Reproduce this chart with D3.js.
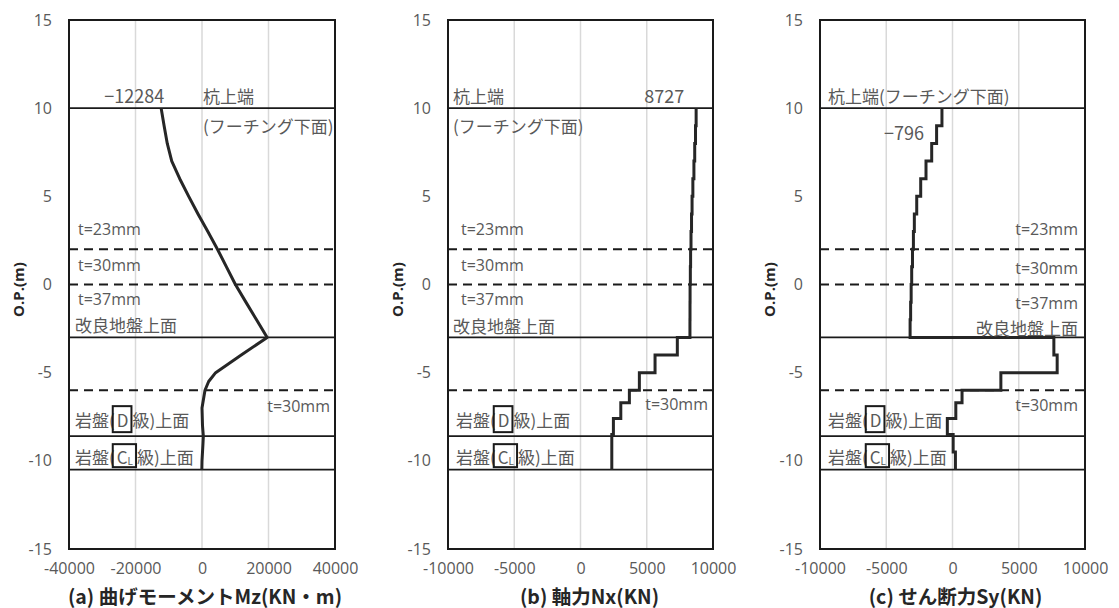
<!DOCTYPE html>
<html><head><meta charset="utf-8">
<script src="https://cdn.jsdelivr.net/npm/d3@7"></script>
<style>body{margin:0;background:#fff}</style>
</head><body>
<svg id="chart" width="1119" height="608"></svg>
<script>
// ---- data ----
const depthTicks = [15, 10, 5, 0, -5, -10, -15];
const momentTicks = [-40000, -20000, 0, 20000, 40000];
const forceTicks = [-10000, -5000, 0, 5000, 10000];
const solidLayers = [10, -3, -8.6, -10.5];
const dashedLayers = [2, 0, -6];

const momentDepth = [10, 9, 8, 7, 6, 5, 4, 3, 2, 1, 0, -1, -2, -3, -4, -5, -5.5, -6, -7, -8, -8.6, -9, -10, -10.5];
const momentValue = [-12284, -11400, -10450, -9100, -6700, -4000, -1200, 1750, 4650, 7350, 10050, 13200, 16400, 19600, 11800, 4100, 2000, 900, 0, 150, 400, 300, 0, -50];

const axialBreaks = [10, 9, 8, 7, 6, 5, 4, 3, 2, 1, 0, -1, -2, -3, -4, -5, -6, -6.7, -7.6, -8.5, -10.5];
const axialValue = [8727, 8680, 8620, 8560, 8480, 8420, 8380, 8340, 8310, 8290, 8270, 8265, 8260, 7308, 5626, 4443, 3689, 3041, 2483, 2362];

const shearBreaks = [10, 9, 8, 7, 6, 5, 4, 3, 2, 1, 0, -1, -2, -3, -4, -5, -6, -6.7, -7.6, -8.5, -9.5, -10.5];
const shearValue = [-796, -1200, -1570, -2000, -2400, -2700, -2880, -2950, -3020, -3080, -3120, -3160, -3200, 7650, 7900, 3650, 720, 250, -390, 50, 220];

const panelTitles = ["(a) 曲げモーメントMz(KN・m)", "(b) 軸力Nx(KN)", "(c) せん断力Sy(KN)"];
const peakLabels = ["−12284", "8727", "−796"];
const yAxisTitle = "O.P.(m)";

// ---- layout ----
const svg = d3.select("#chart");
const plotTop = 20, plotBottom = 549;
const panels = [
  {left: 69, right: 335, domain: [-40000, 40000], ticks: momentTicks},
  {left: 448, right: 713, domain: [-10000, 10000], ticks: forceTicks},
  {left: 820, right: 1085, domain: [-10000, 10000], ticks: forceTicks}
];
const y = d3.scaleLinear().domain([15, -15]).range([plotTop, plotBottom]);
const jpFont = "'Noto Sans CJK JP', 'Noto Sans', sans-serif";
const numFont = "'Open Sans', 'Noto Sans', sans-serif";
const annoColor = "#595959";
const jpSize = 17;

function stepPoints(breaks, values) {
  const pts = [];
  values.forEach((v, i) => { pts.push([v, breaks[i]]); pts.push([v, breaks[i + 1]]); });
  return pts;
}

panels.forEach((p, pi) => {
  const x = d3.scaleLinear().domain(p.domain).range([p.left, p.right]);
  p.x = x;
  const g = svg.append("g");
  g.selectAll("line.grid").data(p.ticks.slice(1, -1)).enter().append("line")
    .attr("x1", d => x(d)).attr("x2", d => x(d)).attr("y1", plotTop).attr("y2", plotBottom)
    .attr("stroke", "#d9d9d9").attr("stroke-width", 1.5);
  g.selectAll("line.solid").data(solidLayers).enter().append("line")
    .attr("x1", p.left).attr("x2", p.right).attr("y1", d => y(d)).attr("y2", d => y(d))
    .attr("stroke", "#1a1a1a").attr("stroke-width", 1.6);
  g.selectAll("line.dash").data(dashedLayers).enter().append("line")
    .attr("x1", p.left).attr("x2", p.right).attr("y1", d => y(d)).attr("y2", d => y(d))
    .attr("stroke", "#1a1a1a").attr("stroke-width", 2).attr("stroke-dasharray", "9,6");
  g.append("rect").attr("x", p.left).attr("y", plotTop).attr("width", p.right - p.left).attr("height", plotBottom - plotTop)
    .attr("fill", "none").attr("stroke", "#1a1a1a").attr("stroke-width", 2);
  const yAxis = d3.axisLeft(y).tickValues(depthTicks).tickSize(0).tickPadding(17);
  const ya = g.append("g").attr("transform", `translate(${p.left},0)`).call(yAxis);
  ya.select(".domain").remove();
  ya.selectAll("text").attr("font-family", numFont).attr("font-size", 16).attr("fill", annoColor)
    .text(d => String(d));
  const xAxis = d3.axisBottom(x).tickValues(p.ticks).tickSize(0).tickPadding(14);
  const xa = g.append("g").attr("transform", `translate(0,${plotBottom})`).call(xAxis);
  xa.select(".domain").remove();
  xa.selectAll("text").attr("font-family", numFont).attr("font-size", 16).attr("fill", annoColor)
    .text(d => String(d));
  g.append("text").attr("transform", `translate(${p.left - 51},${(plotTop + plotBottom) / 2 + 5}) rotate(-90)`)
    .attr("text-anchor", "middle").attr("dominant-baseline", "central")
    .attr("font-family", numFont).attr("font-weight", "bold").attr("font-size", 15).attr("fill", "#262626")
    .text(yAxisTitle);
  g.append("text").attr("x", (p.left + p.right) / 2 + (pi === 1 ? 9 : 3)).attr("y", 595)
    .attr("text-anchor", "middle").attr("dominant-baseline", "central")
    .attr("font-family", jpFont).attr("font-weight", "bold").attr("font-size", 19.5).attr("fill", "#262626")
    .text(panelTitles[pi]);
});

// ---- series ----
const line = (x) => d3.line().x(d => x(d[0])).y(d => y(d[1]));
svg.append("path").datum(momentDepth.map((d, i) => [momentValue[i], d]))
  .attr("d", line(panels[0].x)).attr("fill", "none").attr("stroke", "#262626").attr("stroke-width", 3).attr("stroke-linejoin", "round");
svg.append("path").datum(stepPoints(axialBreaks, axialValue))
  .attr("d", line(panels[1].x)).attr("fill", "none").attr("stroke", "#262626").attr("stroke-width", 3);
svg.append("path").datum(stepPoints(shearBreaks, shearValue))
  .attr("d", line(panels[2].x)).attr("fill", "none").attr("stroke", "#262626").attr("stroke-width", 3);

// ---- annotations ----
function anno(x, yy, txt, anchor, size) {
  return svg.append("text").attr("x", x).attr("y", yy).attr("text-anchor", anchor || "start")
    .attr("dominant-baseline", "central").attr("font-family", jpFont).attr("font-size", size || jpSize)
    .attr("fill", annoColor).text(txt);
}
function tAnno(x, yy, txt, anchor) {
  return svg.append("text").attr("x", x).attr("y", yy).attr("text-anchor", anchor || "start")
    .attr("dominant-baseline", "central").attr("font-family", numFont).attr("font-size", 16)
    .attr("fill", annoColor).text(txt);
}
function rockLabel(x, yy, cls) {
  const t = svg.append("text").attr("x", x).attr("y", yy).attr("dominant-baseline", "central")
    .attr("font-family", jpFont).attr("font-size", jpSize).attr("fill", annoColor);
  t.append("tspan").text("岩盤(");
  let n;
  if (cls === "D") {
    t.append("tspan").attr("dx", 2).text("D");
    n = 1;
  } else {
    t.append("tspan").attr("dx", 2).text("C");
    t.append("tspan").attr("font-size", 10).attr("dy", 4).text("L");
    n = 2;
  }
  t.append("tspan").attr("dx", 4).attr("dy", cls === "D" ? 0 : -4).text("級)上面");
  const node = t.node();
  let bx0 = x + 40, bx1 = x + 60;
  try {
    const a = node.getExtentOfChar(3), b = node.getExtentOfChar(3 + n - 1);
    bx0 = a.x - 4; bx1 = b.x + b.width + 3;
  } catch (e) {}
  const h = cls === "D" ? 26 : 23;
  svg.append("rect").attr("x", bx0).attr("y", yy - h / 2).attr("width", bx1 - bx0).attr("height", h)
    .attr("fill", "none").attr("stroke", "#1a1a1a").attr("stroke-width", 2);
}

const pa = panels[0], pb = panels[1], pc = panels[2];
anno(pa.x(0) + 1, y(10) - 13, "杭上端");
anno(pa.x(0) + 1, y(10) + 17, "(フーチング下面)");
anno(pa.x(momentValue[0]) + 3, y(10) - 13, peakLabels[0], "end", 18);
tAnno(pa.left + 9, y(2) - 20, "t=23mm");
tAnno(pa.left + 9, y(0) - 20, "t=30mm");
tAnno(pa.left + 9, y(0) + 14, "t=37mm");
anno(pa.left + 6, y(-3) - 13, "改良地盤上面");
tAnno(pa.right - 5, y(-6) + 16, "t=30mm", "end");
rockLabel(pa.left + 6, y(-8.6) - 17, "D");
rockLabel(pa.left + 6, y(-10.5) - 14, "CL");

anno(pb.left + 5, y(10) - 13, "杭上端");
anno(pb.left + 5, y(10) + 17, "(フーチング下面)");
anno(pb.x(axialValue[0]) - 12, y(10) - 13, peakLabels[1], "end", 18);
tAnno(pb.left + 13, y(2) - 20, "t=23mm");
tAnno(pb.left + 13, y(0) - 20, "t=30mm");
tAnno(pb.left + 13, y(0) + 14, "t=37mm");
anno(pb.left + 5, y(-3) - 12, "改良地盤上面");
tAnno(pb.right - 5, y(-6) + 14, "t=30mm", "end");
rockLabel(pb.left + 8, y(-8.6) - 17, "D");
rockLabel(pb.left + 8, y(-10.5) - 14, "CL");

anno(pc.left + 8, y(10) - 13, "杭上端(フーチング下面)");
anno(pc.x(shearValue[0]) - 18, y(10) + 24, peakLabels[2], "end", 18);
tAnno(pc.right - 7, y(2) - 20, "t=23mm", "end");
tAnno(pc.right - 7, y(0) - 17, "t=30mm", "end");
tAnno(pc.right - 7, y(0) + 18, "t=37mm", "end");
anno(pc.right - 7, y(-3) - 10, "改良地盤上面", "end");
tAnno(pc.right - 7, y(-6) + 15, "t=30mm", "end");
rockLabel(pc.left + 8, y(-8.6) - 17, "D");
rockLabel(pc.left + 8, y(-10.5) - 14, "CL");
</script>
</body></html>
